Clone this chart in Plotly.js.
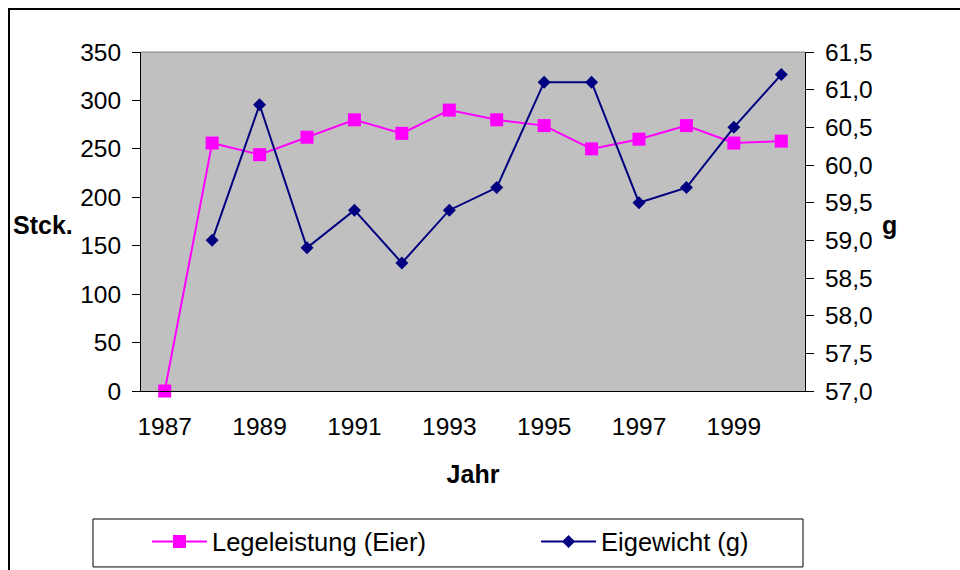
<!DOCTYPE html>
<html><head><meta charset="utf-8">
<script src="https://cdn.plot.ly/plotly-3.0.1.min.js"></script>
<style>
html,body{margin:0;padding:0;background:#fff;overflow:hidden;width:960px;height:570px}
#chart{position:absolute;left:0;top:0;width:960px;height:570px}
#frame{position:absolute;left:8px;top:8px;width:2000px;height:2000px;border:2px solid #000;pointer-events:none}
</style></head><body>
<div id="chart"></div><div id="frame"></div>
<script>
const years = [1987,1988,1989,1990,1991,1992,1993,1994,1995,1996,1997,1998,1999,2000];
const legeleistung = [0,256,244,262,280,266,290,280,274,250,260,274,256,258];
const gewichtYears = [1988,1989,1990,1991,1992,1993,1994,1995,1996,1997,1998,1999,2000];
const eigewicht = [59.0,60.8,58.9,59.4,58.7,59.4,59.7,61.1,61.1,59.5,59.7,60.5,61.2];
const labelYears = [1987,1989,1991,1993,1995,1997,1999];

const boundaries = years.map(y => y - 0.5).concat([years[years.length-1] + 0.5]);
const xr = [boundaries[0], boundaries[boundaries.length-1]];
const FONT = 'Liberation Sans, Arial, sans-serif';

const traces = [
  {x: years, y: legeleistung, name: 'Legeleistung (Eier)', type: 'scatter', mode: 'lines+markers',
   line: {color: '#FF00FF', width: 2}, marker: {symbol: 'square', size: 13, color: '#FF00FF'},
   cliponaxis: false, xaxis: 'x', yaxis: 'y', legend: 'legend'},
  {x: gewichtYears, y: eigewicht, name: 'Eigewicht (g)', type: 'scatter', mode: 'lines+markers',
   line: {color: '#000080', width: 2}, marker: {symbol: 'diamond', size: 10, color: '#000080'},
   cliponaxis: false, xaxis: 'x', yaxis: 'y2', legend: 'legend2'}
];

const tickBase = {showgrid: false, zeroline: false, ticklen: 8, tickwidth: 1, tickcolor: '#000',
  showline: true, linecolor: '#000', linewidth: 1, tickfont: {family: FONT, size: 24.5, color: '#000'}};
const legFont = {family: FONT, size: 25.5, color: '#000'};

const layout = {
  width: 960, height: 570,
  margin: {l: 141, r: 155, t: 52, b: 179, autoexpand: false},
  paper_bgcolor: 'rgba(0,0,0,0)',
  plot_bgcolor: '#C0C0C0',
  separators: ',.',
  showlegend: true,
  font: {family: FONT, color: '#000'},
  xaxis: Object.assign({}, tickBase, {
    range: xr, tickmode: 'array', tickvals: labelYears, ticktext: labelYears.map(String),
    ticks: '', ticklabelstandoff: 14, automargin: false,
    title: {text: 'Jahr', font: {family: FONT, size: 25, weight: 'bold', color: '#000'}, standoff: 26}
  }),
  xaxis2: Object.assign({}, tickBase, {
    range: xr, tickmode: 'array', tickvals: boundaries, ticks: 'outside', showticklabels: false,
    overlaying: 'x', anchor: 'y', side: 'bottom'
  }),
  xaxis3: Object.assign({}, tickBase, {
    range: xr, tickmode: 'array', tickvals: boundaries, ticks: 'inside', showticklabels: false,
    overlaying: 'x', anchor: 'y', side: 'bottom'
  }),
  yaxis: Object.assign({}, tickBase, {
    range: [0, 350], dtick: 50, tick0: 0, ticks: 'outside', ticklabelstandoff: 6, automargin: false
  }),
  yaxis2: Object.assign({}, tickBase, {
    range: [57, 61.5], dtick: 0.5, tick0: 57, tickformat: '.1f', ticks: 'outside', ticklabelstandoff: 6,
    overlaying: 'y', side: 'right', anchor: 'x', automargin: false
  }),
  yaxis3: Object.assign({}, tickBase, {
    range: [0, 350], dtick: 50, tick0: 0, ticks: 'inside', showticklabels: false,
    overlaying: 'y', side: 'left', anchor: 'x'
  }),
  yaxis4: Object.assign({}, tickBase, {
    range: [57, 61.5], dtick: 0.5, tick0: 57, ticks: 'inside', showticklabels: false,
    overlaying: 'y', side: 'right', anchor: 'x'
  }),
  shapes: [
    {type: 'line', xref: 'paper', yref: 'paper', x0: 0, x1: 1, y0: 1, y1: 1, line: {color: '#808080', width: 1}, layer: 'below'},
    {type: 'rect', xref: 'paper', yref: 'paper', x0: -0.0723, x1: 0.997, y0: -0.519, y1: -0.3776,
     line: {color: '#000', width: 1}, fillcolor: '#fff', layer: 'below'}
  ],
  legend: {orientation: 'h', x: 0.009, xanchor: 'left', y: -0.445, yanchor: 'middle',
    bgcolor: 'rgba(0,0,0,0)', borderwidth: 0, itemwidth: 55, font: legFont},
  legend2: {orientation: 'h', x: 0.595, xanchor: 'left', y: -0.445, yanchor: 'middle',
    bgcolor: 'rgba(0,0,0,0)', borderwidth: 0, itemwidth: 55, font: legFont},
  annotations: [
    {text: 'Stck.', xref: 'paper', yref: 'paper', x: -0.1476, y: 0.49, xanchor: 'center', yanchor: 'middle',
     showarrow: false, font: {family: FONT, size: 25, weight: 'bold', color: '#000'}},
    {text: 'g', xref: 'paper', yref: 'paper', x: 1.128, y: 0.49, xanchor: 'center', yanchor: 'middle',
     showarrow: false, font: {family: FONT, size: 25, weight: 'bold', color: '#000'}}
  ]
};

Plotly.newPlot('chart', traces, layout, {displayModeBar: false, staticPlot: true});
</script>
</body></html>
